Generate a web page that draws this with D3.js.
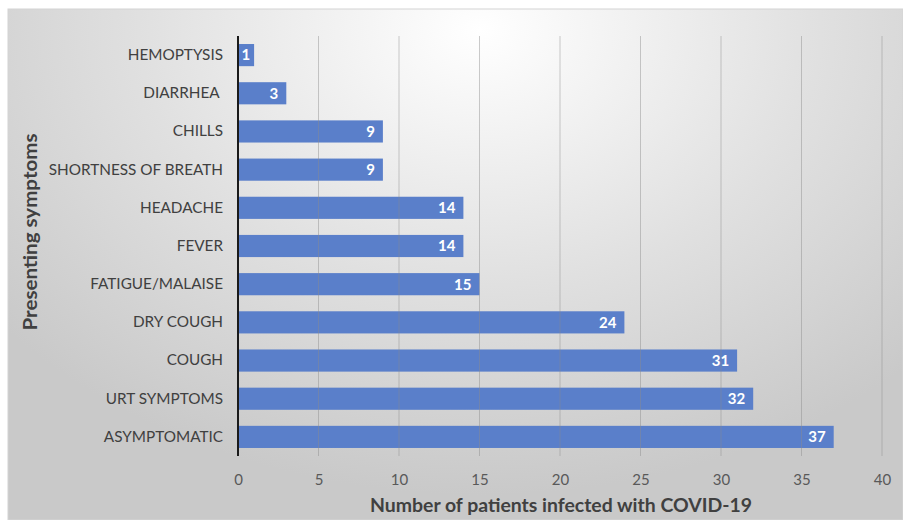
<!DOCTYPE html>
<html>
<head>
<meta charset="utf-8">
<script src="https://cdn.jsdelivr.net/npm/d3@7"></script>
<style>
  html, body { margin: 0; padding: 0; background: #fff; }
  svg { display: block; }
  text { font-family: Lato, "Open Sans", sans-serif; }
</style>
</head>
<body>
<svg id="chart" width="903" height="520"></svg>
<script>
// Presenting symptoms, top to bottom
const symptoms = [
  "HEMOPTYSIS", "DIARRHEA ", "CHILLS", "SHORTNESS OF BREATH", "HEADACHE",
  "FEVER", "FATIGUE/MALAISE", "DRY COUGH", "COUGH", "URT SYMPTOMS", "ASYMPTOMATIC"
];
const patients = [1, 3, 9, 9, 14, 14, 15, 24, 31, 32, 37];
const xTicks = [0, 5, 10, 15, 20, 25, 30, 35, 40];

const data = symptoms.map((s, i) => ({ name: s, value: patients[i] }));

const svg = d3.select("#chart");
const W = 903, H = 520;
const plot = { left: 238, right: 882, top: 36, bottom: 456 };

// Chart area background: soft radial shading
const defs = svg.append("defs");
const grad = defs.append("radialGradient")
  .attr("id", "bg")
  .attr("gradientUnits", "userSpaceOnUse")
  .attr("cx", 480).attr("cy", 30).attr("r", 620)
  .attr("gradientTransform", "translate(480,30) scale(1,0.75) translate(-480,-30)");
grad.append("stop").attr("offset", "0%").attr("stop-color", "#ffffff");
grad.append("stop").attr("offset", "55%").attr("stop-color", "#e0e0e0");
grad.append("stop").attr("offset", "100%").attr("stop-color", "#c9c9c9");

svg.append("rect")
  .attr("x", 8).attr("y", 9)
  .attr("width", W - 8).attr("height", H - 9)
  .attr("fill", "url(#bg)")
  .attr("stroke", "#d4d4d4").attr("stroke-width", 1);

const x = d3.scaleLinear().domain([0, 40]).range([plot.left, plot.right]);
const y = d3.scaleBand()
  .domain(symptoms)
  .range([plot.top, plot.bottom])
  .paddingInner(0.42)
  .paddingOuter(0.21);

// Bars
svg.append("g")
  .selectAll("rect")
  .data(data)
  .join("rect")
  .attr("x", x(0))
  .attr("y", d => y(d.name))
  .attr("width", d => x(d.value) - x(0))
  .attr("height", y.bandwidth())
  .attr("fill", "#5a7fca");

// Vertical gridlines (visible through bars)
svg.append("g")
  .selectAll("line")
  .data(xTicks.filter(t => t > 0))
  .join("line")
  .attr("x1", d => x(d)).attr("x2", d => x(d))
  .attr("y1", plot.top).attr("y2", plot.bottom)
  .attr("stroke", "#8c8c8c")
  .attr("stroke-opacity", 0.45)
  .attr("stroke-width", 1);

// X axis tick labels
const xAxis = d3.axisBottom(x).tickValues(xTicks).tickSize(0).tickPadding(0);
const gx = svg.append("g")
  .attr("transform", `translate(0,${plot.bottom})`)
  .call(xAxis);
gx.select(".domain").remove();
gx.selectAll("text")
  .attr("dy", 0)
  .attr("y", 29)
  .attr("fill", "#595959")
  .style("font-size", "15px");

// Y axis with category labels
const yAxis = d3.axisLeft(y).tickSize(0).tickPadding(15);
const gy = svg.append("g")
  .attr("transform", `translate(${plot.left},0)`)
  .call(yAxis);
gy.select(".domain")
  .attr("stroke", "#1a1a1a")
  .attr("stroke-width", 2)
  .attr("d", `M0,${plot.top}V${plot.bottom}`);
gy.selectAll("text")
  .attr("fill", "#404040")
  .style("font-size", "15.3px")
  .style("white-space", "pre");

// Value labels inside bar ends
svg.append("g")
  .selectAll("text")
  .data(data)
  .join("text")
  .attr("x", d => x(d.value) - (d.value < 2 ? 4 : 8))
  .attr("y", d => y(d.name) + y.bandwidth() / 2)
  .attr("dy", "0.36em")
  .attr("text-anchor", "end")
  .attr("fill", "#ffffff")
  .style("font-size", "15px")
  .style("font-weight", "bold")
  .text(d => d.value);

// Axis titles
svg.append("text")
  .attr("x", 561)
  .attr("y", 512)
  .attr("text-anchor", "middle")
  .attr("fill", "#404040")
  .style("font-size", "19.5px")
  .style("font-weight", "bold")
  .attr("textLength", 382)
  .attr("lengthAdjust", "spacingAndGlyphs")
  .text("Number of patients infected with COVID-19");

svg.append("text")
  .attr("transform", "translate(37,232) rotate(-90)")
  .attr("text-anchor", "middle")
  .attr("fill", "#404040")
  .style("font-size", "19.5px")
  .style("font-weight", "bold")
  .attr("textLength", 197)
  .attr("lengthAdjust", "spacingAndGlyphs")
  .text("Presenting symptoms");
</script>
</body>
</html>
